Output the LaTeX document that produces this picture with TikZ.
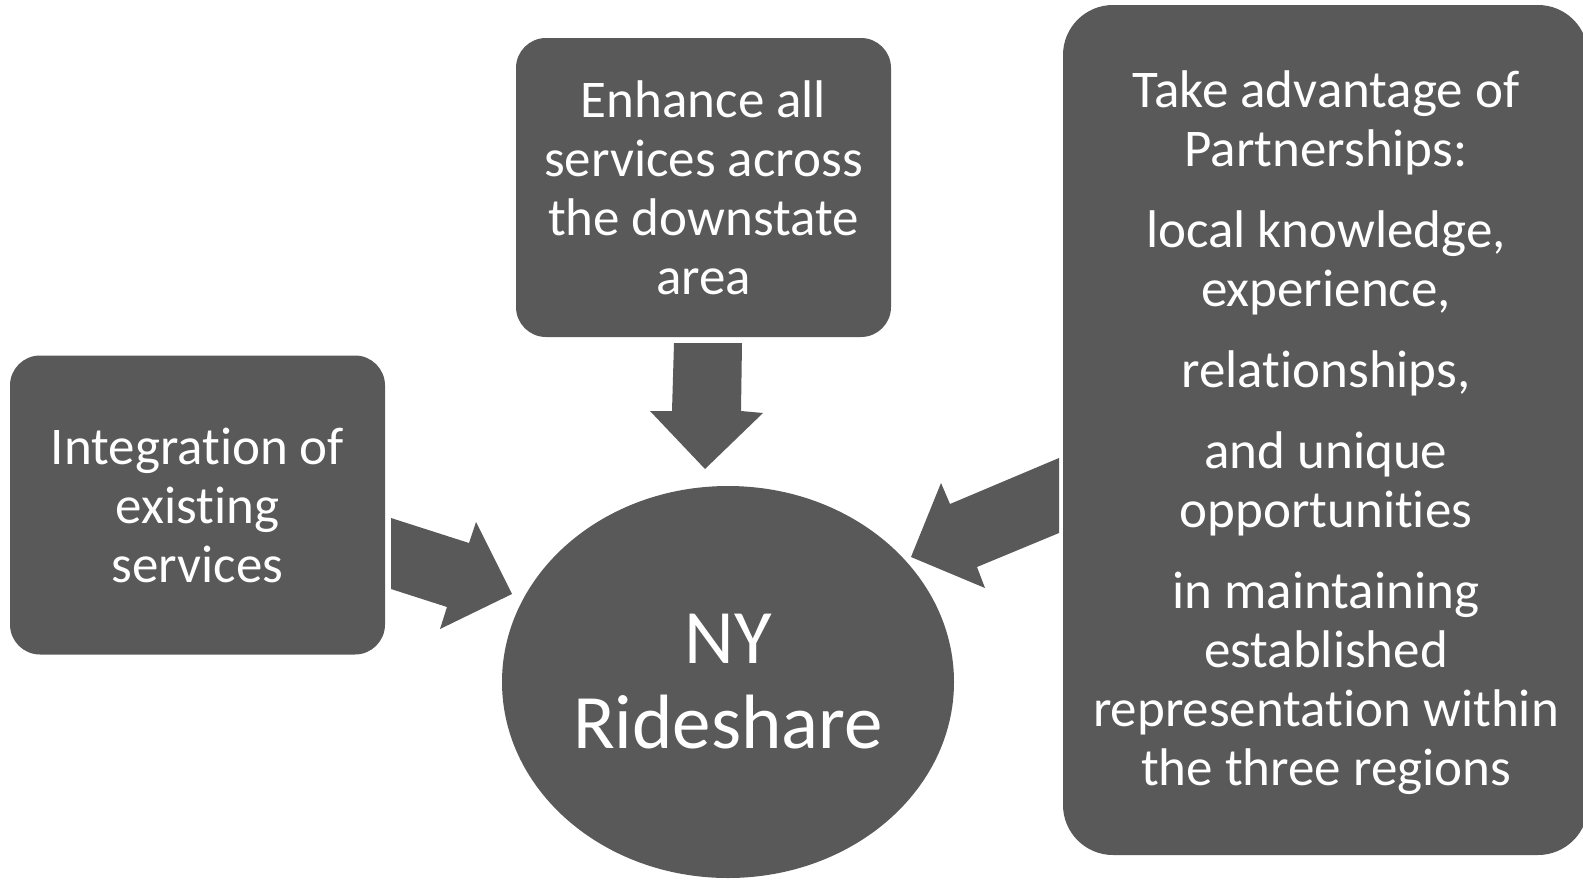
\documentclass[tikz,border=0pt]{standalone}
\usepackage{fontspec}
\setmainfont{Carlito}[Ligatures={NoCommon,NoRequired,NoContextual}]
\usetikzlibrary{shapes.geometric}
\definecolor{boxgray}{RGB}{89,89,89}
\tikzset{
  box/.style={draw=none, fill=boxgray, text=white, align=center, inner sep=0pt,
              font=\fontsize{53}{59}\selectfont},
  blockarrow/.style={fill=boxgray, draw=none}
}
\begin{document}
\begin{tikzpicture}[x=1pt,y=-1pt]
\useasboundingbox (0,0) rectangle (1583,879);
% boxes
\node[box, rounded corners=30pt, minimum width=375pt, minimum height=299pt] (left) at (197.5,505)
  {Integration of\\existing\\services};
\node[box, rounded corners=30pt, minimum width=375pt, minimum height=299pt] (top) at (703.5,187.5)
  {Enhance all\\services across\\the downstate\\area};
\node[box, rounded corners=50pt, minimum width=525pt, minimum height=850pt] (right) at (1325.5,430)
  {};
\node[text=white, align=center, inner sep=0pt, font=\fontsize{53}{59}\selectfont] (righttext) at (1326,433)
  {Take advantage of\\Partnerships:\\[22pt]local knowledge,\\experience,\\[22pt]relationships,\\[22pt]and unique\\opportunities\\[22pt]in maintaining\\established\\representation within\\the three regions};
% centre ellipse
\node[ellipse, fill=boxgray, text=white, align=center, inner sep=0pt,
      minimum width=452pt, minimum height=392pt, font=\fontsize{77}{85}\selectfont] (hub) at (728,682)
  {NY\\Rideshare};
% block arrows
\fill[blockarrow] (391,518) -- (469,543) -- (476,522) -- (512,594) -- (440,629) -- (447,607) -- (391,589) -- cycle;
\fill[blockarrow] (674,343) -- (742,343) -- (741,411) -- (763,413) -- (705,469) -- (650,411) -- (672,411) -- cycle;
\fill[blockarrow] (1059,458) -- (950,504) -- (941,483) -- (911,557) -- (985,588) -- (977,567) -- (1059,533) -- cycle;
\end{tikzpicture}
\end{document}
